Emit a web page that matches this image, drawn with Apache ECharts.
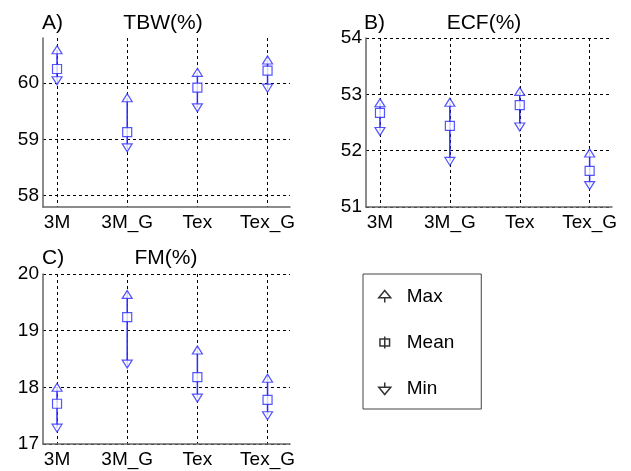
<!DOCTYPE html>
<html>
<head>
<meta charset="utf-8">
<script src="https://cdn.jsdelivr.net/npm/echarts@6/dist/echarts.min.js"></script>
<style>
  html, body { margin: 0; padding: 0; background: #fff; }
  #main { width: 631px; height: 471px; }
</style>
</head>
<body>
<div id="main"></div>
<script>
// 数据
const cats = ['3M', '3M_G', 'Tex', 'Tex_G'];
const catPos = [1, 2, 3, 4];

const tbwMax = [60.59, 59.74, 60.19, 60.41];
const tbwMean = [60.25, 59.13, 59.92, 60.22];
const tbwMin = [60.04, 58.85, 59.56, 59.91];
const tbwTicks = [58, 59, 60];

const ecfMax = [52.85, 52.86, 53.05, 51.96];
const ecfMean = [52.67, 52.44, 52.81, 51.64];
const ecfMin = [52.34, 51.81, 52.42, 51.38];
const ecfTicks = [51, 52, 53, 54];

const fmMax = [18.0, 19.64, 18.66, 18.16];
const fmMean = [17.71, 19.24, 18.18, 17.78];
const fmMin = [17.28, 18.41, 17.81, 17.50];
const fmTicks = [17, 18, 19, 20];

(function () {
  const chart = echarts.init(document.getElementById('main'));
  const blue = '#2b2bff';
  const font = 'Liberation Sans, Arial, sans-serif';

  // 网格位置
  const grids = [
    { left: 43, top: 38, width: 247, height: 169 },
    { left: 366, top: 38, width: 246, height: 169 },
    { left: 43, top: 274, width: 247, height: 170 }
  ];
  const yRanges = [[57.8, 60.8], [51, 54], [17, 20]];
  const yTicks = [tbwTicks, ecfTicks, fmTicks];
  const panels = [
    [tbwMax, tbwMean, tbwMin],
    [ecfMax, ecfMean, ecfMin],
    [fmMax, fmMean, fmMin]
  ];

  const dashed = { show: true, lineStyle: { color: '#000', type: [3, 3], width: 1 } };
  const axLine = { show: true, onZero: false, lineStyle: { color: '#666', width: 1.5 } };

  const xAxis = grids.map(function (g, i) {
    return {
      type: 'value', gridIndex: i, min: 0.8, max: 4.32,
      axisLine: axLine,
      axisTick: { show: false, customValues: catPos },
      axisLabel: {
        customValues: catPos, color: '#000', fontSize: 19, fontFamily: font, margin: 6,
        formatter: function (v) { return cats[Math.round(v) - 1]; }
      },
      splitLine: dashed
    };
  });

  const yAxis = grids.map(function (g, i) {
    return {
      type: 'value', gridIndex: i, min: yRanges[i][0], max: yRanges[i][1],
      axisLine: axLine,
      axisTick: { show: false, customValues: yTicks[i] },
      axisLabel: { customValues: yTicks[i], color: '#000', fontSize: 19, fontFamily: font, margin: 4 },
      splitLine: dashed
    };
  });

  let series = [];
  panels.forEach(function (p, i) {
    const maxV = p[0], meanV = p[1], minV = p[2];
    // 竖线（最大到最小）
    series.push({
      type: 'custom', xAxisIndex: i, yAxisIndex: i, z: 2, silent: true,
      data: catPos.map(function (x, k) { return [x, maxV[k], minV[k]]; }),
      encode: { x: 0, y: [1, 2] },
      renderItem: function (params, api) {
        const a = api.coord([api.value(0), api.value(1)]);
        const b = api.coord([api.value(0), api.value(2)]);
        return {
          type: 'line',
          shape: { x1: a[0], y1: a[1], x2: b[0], y2: b[1] },
          style: { stroke: blue, lineWidth: 1.5 }
        };
      }
    });
    const mk = { color: '#fff', borderColor: blue, borderWidth: 1.2 };
    series.push({
      name: 'Max', type: 'scatter', xAxisIndex: i, yAxisIndex: i, z: 3,
      symbol: 'triangle', symbolSize: [10, 8], itemStyle: mk,
      data: catPos.map(function (x, k) { return [x, maxV[k]]; })
    });
    series.push({
      name: 'Mean', type: 'scatter', xAxisIndex: i, yAxisIndex: i, z: 3,
      symbol: 'rect', symbolSize: 9, itemStyle: mk,
      data: catPos.map(function (x, k) { return [x, meanV[k]]; })
    });
    series.push({
      name: 'Min', type: 'scatter', xAxisIndex: i, yAxisIndex: i, z: 3,
      symbol: 'triangle', symbolRotate: 180, symbolSize: [10, 8], itemStyle: mk,
      data: catPos.map(function (x, k) { return [x, minV[k]]; })
    });
  });

  const iconStyle = { color: '#fff', borderColor: '#000', borderWidth: 1.5 };
  const tStyle = { color: '#000', fontSize: 21, fontFamily: font, fontWeight: 'normal' };

  let option = {
    animation: false,
    backgroundColor: '#fff',
    title: [
      { text: 'A)', left: 37, top: 8, textStyle: tStyle },
      { text: 'TBW(%)', left: 158, top: 8, textAlign: 'center', textStyle: tStyle },
      { text: 'B)', left: 359, top: 8, textStyle: tStyle },
      { text: 'ECF(%)', left: 479, top: 8, textAlign: 'center', textStyle: tStyle },
      { text: 'C)', left: 37, top: 243, textStyle: tStyle },
      { text: 'FM(%)', left: 161, top: 243, textAlign: 'center', textStyle: tStyle }
    ],
    legend: {
      orient: 'vertical', left: 363, top: 274,
      padding: [13, 27, 11, 15],
      borderColor: '#444', borderWidth: 1,
      itemWidth: 12, itemHeight: 12, itemGap: 27,
      textStyle: { color: '#000', fontSize: 19, fontFamily: font, lineHeight: 19, padding: [0, 0, 0, 11] },
      selectedMode: false,
      data: [
        { name: 'Max', icon: 'path://M5,0 L10,6 L0,6 Z M5,6 L5,10', itemStyle: iconStyle },
        { name: 'Mean', icon: 'path://M5,0 L5,2 M1,2 L9,2 L9,8 L1,8 Z M5,8 L5,10 M5,2 L5,8', itemStyle: iconStyle },
        { name: 'Min', icon: 'path://M5,0 L5,4 M0,4 L10,4 L5,10 Z', itemStyle: iconStyle }
      ]
    },
    grid: grids,
    xAxis: xAxis,
    yAxis: yAxis,
    series: series
  };

  chart.setOption(option);
  window.addEventListener('resize', function () {
    chart.resize();
  });
})();
</script>
</body>
</html>
